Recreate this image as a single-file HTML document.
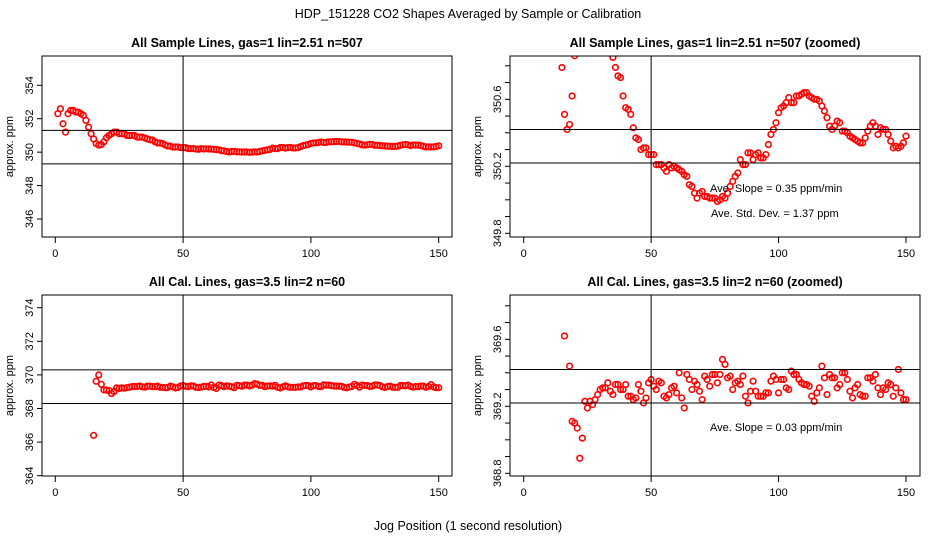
<!DOCTYPE html>
<html><head><meta charset="utf-8"><style>
html,body{margin:0;padding:0;background:#fff;width:936px;height:540px;overflow:hidden}
svg{display:block;font-family:"Liberation Sans",sans-serif}
</style></head><body>
<svg id="fig" width="936" height="540" viewBox="0 0 936 540">
<text x="468" y="18" font-size="12.5" text-anchor="middle">HDP_151228  CO2 Shapes Averaged by Sample or Calibration</text>
<text x="468" y="530" font-size="12.5" text-anchor="middle">Jog Position (1 second resolution)</text>
</svg>
<script>
// ---- data ----
const sampleX = [];
for (let i = 1; i <= 150; i++) sampleX.push(i);
const sampleValues = [352.3,352.6,351.7,351.2,352.3,352.5,352.5,352.4,352.4,352.3,352.2,351.9,351.5,351.1,350.79,350.51,350.42,350.45,350.62,350.86,
351.0,351.1,351.2,351.2,351.1,351.1,351.1,351.0,351.0,351.0,351.0,350.9,350.9,350.9,350.85,350.79,350.74,350.73,350.62,350.55,
350.54,350.51,350.43,350.37,350.36,350.30,350.31,350.31,350.27,350.27,350.27,350.21,350.21,350.21,350.19,350.17,350.21,350.19,350.20,350.19,
350.18,350.17,350.15,350.14,350.09,350.08,350.04,350.01,350.04,350.05,350.02,350.02,350.01,350.01,350.01,349.99,350.00,350.02,350.01,350.04,
350.08,350.11,350.14,350.16,350.24,350.21,350.21,350.28,350.28,350.24,350.27,350.28,350.25,350.25,350.27,350.33,350.39,350.42,350.46,350.52,
350.55,350.56,350.58,350.61,350.58,350.58,350.62,350.62,350.63,350.64,350.64,350.62,350.61,350.60,350.60,350.59,350.56,350.53,350.49,350.44,
350.42,350.44,350.47,350.46,350.41,350.41,350.40,350.38,350.37,350.36,350.35,350.34,350.34,350.37,350.41,350.44,350.46,350.44,350.39,350.43,
350.42,350.42,350.39,350.35,350.31,350.32,350.31,350.32,350.34,350.38];
const calX = [];
for (let i = 15; i <= 150; i++) calX.push(i);
const calValues = [366.4,369.62,370.0,369.44,369.11,369.10,369.07,368.89,369.01,369.23,369.19,369.23,369.21,369.24,369.27,369.30,369.31,369.31,369.34,369.29,
369.27,369.33,369.33,369.30,369.30,369.33,369.26,369.26,369.24,369.25,369.33,369.29,369.22,369.25,369.34,369.36,369.32,369.30,369.35,369.34,
369.26,369.25,369.27,369.31,369.32,369.28,369.40,369.25,369.19,369.39,369.36,369.30,369.35,369.33,369.29,369.24,369.38,369.36,369.32,369.39,
369.39,369.34,369.39,369.48,369.45,369.37,369.38,369.30,369.34,369.35,369.33,369.38,369.26,369.22,369.29,369.35,369.29,369.26,369.26,369.26,
369.28,369.28,369.35,369.38,369.36,369.28,369.36,369.36,369.31,369.30,369.41,369.39,369.39,369.36,369.34,369.33,369.33,369.32,369.26,369.23,
369.28,369.31,369.44,369.37,369.27,369.39,369.37,369.37,369.31,369.33,369.40,369.40,369.36,369.29,369.25,369.31,369.33,369.27,369.26,369.26,
369.37,369.37,369.35,369.39,369.31,369.27,369.31,369.30,369.34,369.33,369.26,369.31,369.42,369.28,369.24,369.24];
const xTicks = [0,50,100,150];
const tlTicks = [346,348,350,352,354];
const trTicks = [349.8,349.9,350.0,350.1,350.2,350.3,350.4,350.5,350.6,350.7,350.8];
const trLabels = [349.8,350.2,350.6];
const blTicks = [364,366,368,370,372,374];
const brTicks = [368.8,368.9,369.0,369.1,369.2,369.3,369.4,369.5,369.6,369.7,369.8];
const brLabels = [368.8,369.2,369.6];
const tlLines = [351.3,349.3];
const trLines = [350.42,350.22];
const blLines = [370.3,368.3];
const brLines = [369.42,369.22];
const vLine = 50;

const NS = "http://www.w3.org/2000/svg";
const svg = document.getElementById('fig');
function mk(tag, attrs, parent) {
  const e = document.createElementNS(NS, tag);
  for (const k in attrs) e.setAttribute(k, attrs[k]);
  (parent || svg).appendChild(e);
  return e;
}
let clipN = 0;
function panel(o) {
  const g = mk('g', {});
  
  
  const L = o.left, R = o.left + 410, T = o.top, B = o.top + 181;
  const xs = v => o.x0 + (v - 0) * (o.x150 - o.x0) / 150;
  const ys = v => o.yA + (v - o.vA) * (o.yB - o.yA) / (o.vB - o.vA);
  const t = mk('text', {x: (L + R) / 2, y: T - 9, 'font-size': 12.5, 'font-weight': 'bold', 'text-anchor': 'middle'}, g);
  t.textContent = o.title;
  
  
  const cid = 'c' + (clipN++);
  const cp = mk('clipPath', {id: cid}, g);
  mk('rect', {x: L, y: T, width: 410, height: 181}, cp);
  const xa = mk('g', {}, g);
  
  
  xTicks.forEach(v => {
    mk('line', {x1: xs(v), x2: xs(v), y1: B, y2: B + 6, stroke: '#000', 'stroke-width': 1}, xa);
    const tx = mk('text', {x: xs(v), y: B + 20, 'font-size': 11, 'text-anchor': 'middle'}, xa);
    tx.textContent = v;
  });
  const ya = mk('g', {}, g);
  
  
  o.ticks.forEach(v => mk('line', {x1: L - 5, x2: L, y1: ys(v), y2: ys(v), stroke: '#000', 'stroke-width': 1}, ya));
  o.labels.forEach(v => {
    const ty = mk('text', {x: 0, y: 0, 'font-size': 11, 'text-anchor': 'middle', transform: `translate(${L - 9},${ys(v)}) rotate(-90)`}, ya);
    ty.textContent = o.fmt(v);
  });
  const yt = mk('text', {x: 0, y: 0, 'font-size': 11, 'text-anchor': 'middle', transform: `translate(${L - 29},${(T + B) / 2}) rotate(-90)`}, g);
  yt.textContent = 'approx. ppm';
  
  
  const pg = mk('g', {'clip-path': `url(#${cid})`}, g);
  
  
  o.xd.forEach((xv, i) => {
    const cy = ys(o.yd[i]);
    if (cy < T - 4 || cy > B + 4) return;
    const c = mk('circle', {cx: xs(xv), cy: cy, r: 2.8, fill: 'none', stroke: '#ff0000', 'stroke-width': 1.6}, pg);
    
    
  });
  o.hl.forEach(v => {
    const l = mk('line', {x1: L, x2: R, y1: ys(v), y2: ys(v), stroke: '#000', 'stroke-width': 1}, g);
    
    
  });
  const vl = mk('line', {x1: xs(vLine), x2: xs(vLine), y1: T, y2: B, stroke: '#000', 'stroke-width': 1}, g);
  
  
  const box = mk('rect', {x: L, y: T, width: 410, height: 181, fill: 'none', stroke: '#000', 'stroke-width': 1}, g);
  
  
  (o.notes || []).forEach(n => {
    const nt = mk('text', {x: n[0], y: n[1], 'font-size': 11}, g);
    nt.textContent = n[2];
    
    
  });
}
panel({name: 'panel-sample-all', title: 'All Sample Lines, gas=1 lin=2.51 n=507', left: 42, top: 56,
  x0: 55.3, x150: 438.7, vA: 354, yA: 85.3, vB: 346, yB: 219,
  ticks: tlTicks, labels: tlTicks, fmt: v => v, xd: sampleX, yd: sampleValues, hl: tlLines});
panel({name: 'panel-sample-zoomed', title: 'All Sample Lines, gas=1 lin=2.51 n=507 (zoomed)', left: 510, top: 56,
  x0: 523.7, x150: 906, vA: 350.6, yA: 99.3, vB: 349.8, yB: 233.3,
  ticks: trTicks, labels: trLabels, fmt: v => v.toFixed(1), xd: sampleX, yd: sampleValues, hl: trLines,
  notes: [[710, 192, 'Ave. Slope =  0.35  ppm/min'], [711, 217, 'Ave. Std. Dev. =  1.37  ppm']]});
panel({name: 'panel-cal-all', title: 'All Cal. Lines, gas=3.5 lin=2 n=60', left: 42, top: 295,
  x0: 55.3, x150: 438.7, vA: 374, yA: 307.7, vB: 364, yB: 475.7,
  ticks: blTicks, labels: blTicks, fmt: v => v, xd: calX, yd: calValues, hl: blLines});
panel({name: 'panel-cal-zoomed', title: 'All Cal. Lines, gas=3.5 lin=2 n=60 (zoomed)', left: 510, top: 295,
  x0: 523.7, x150: 906, vA: 369.6, yA: 339.3, vB: 368.8, yB: 473.3,
  ticks: brTicks, labels: brLabels, fmt: v => v.toFixed(1), xd: calX, yd: calValues, hl: brLines,
  notes: [[710, 431, 'Ave. Slope =  0.03  ppm/min']]});
</script>
</body></html>
